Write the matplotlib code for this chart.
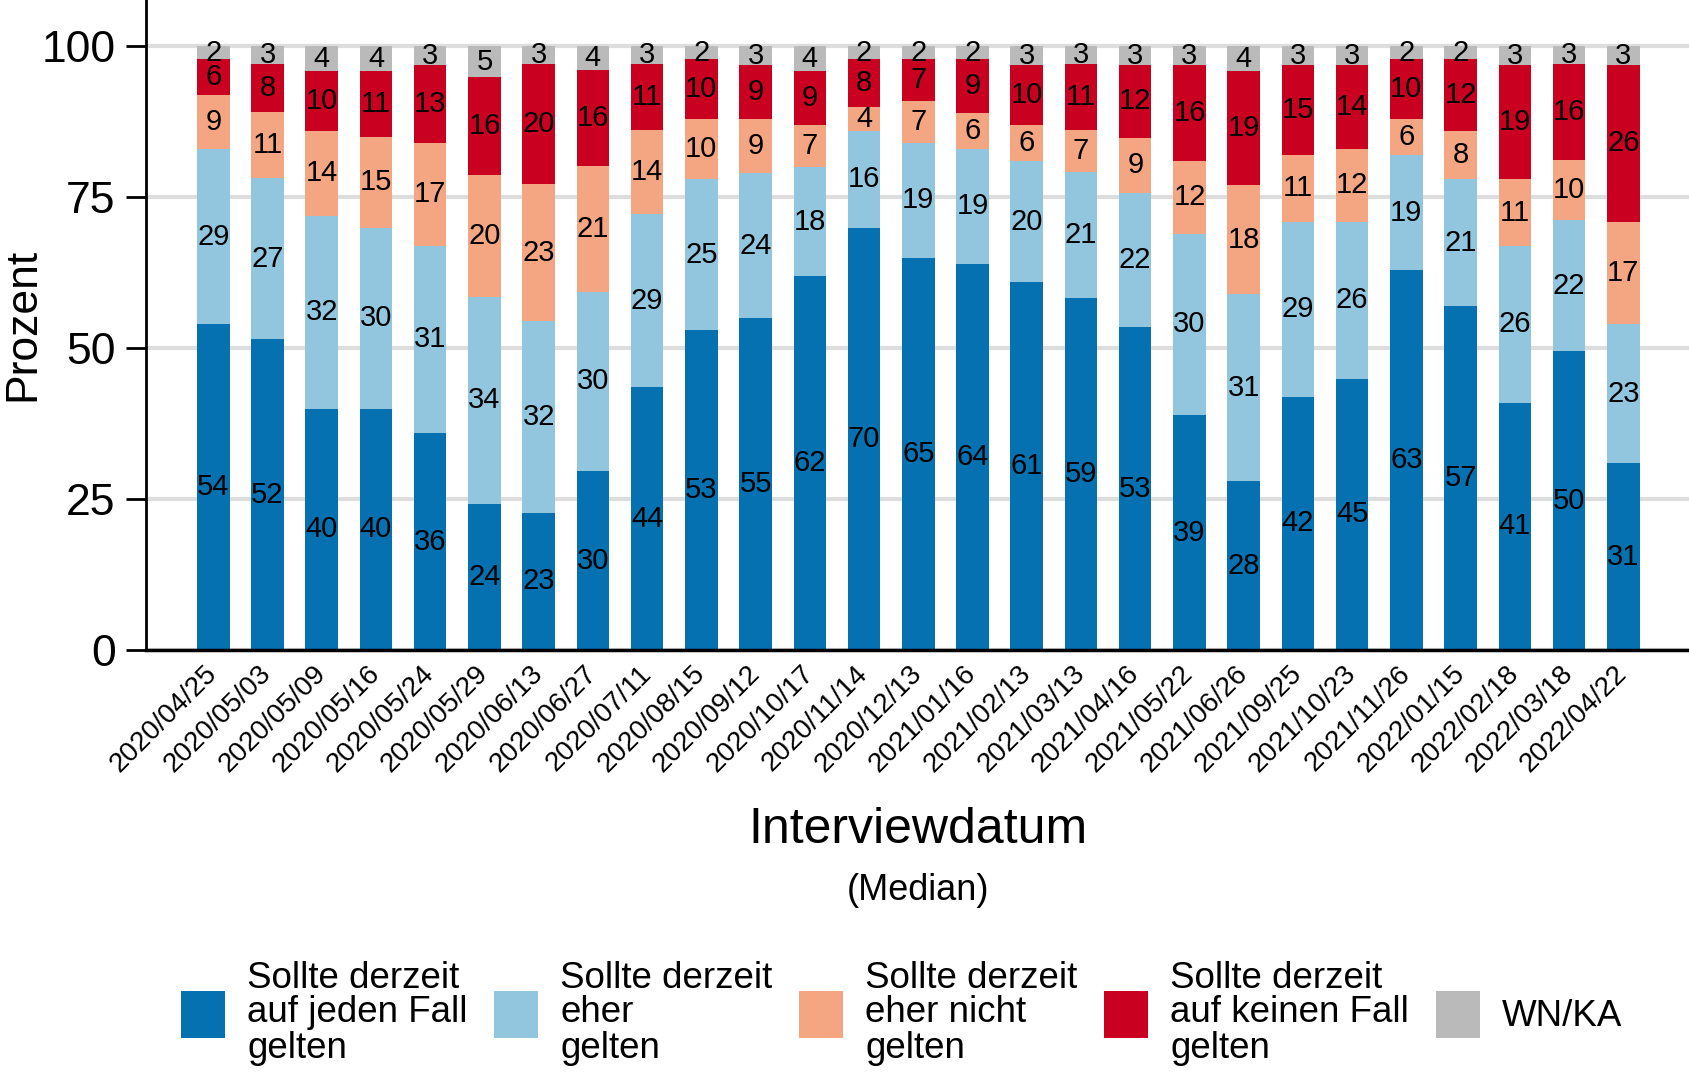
import numpy as np
import matplotlib
matplotlib.use("Agg")
import matplotlib.pyplot as plt
from matplotlib.patches import Patch

plt.rcParams['font.family'] = ['Liberation Sans', 'DejaVu Sans']

dates = ["2020/04/25", "2020/05/03", "2020/05/09", "2020/05/16", "2020/05/24",
         "2020/05/29", "2020/06/13", "2020/06/27", "2020/07/11", "2020/08/15",
         "2020/09/12", "2020/10/17", "2020/11/14", "2020/12/13", "2021/01/16",
         "2021/02/13", "2021/03/13", "2021/04/16", "2021/05/22", "2021/06/26",
         "2021/09/25", "2021/10/23", "2021/11/26", "2022/01/15", "2022/02/18",
         "2022/03/18", "2022/04/22"]

jeden_fall = [54, 52, 40, 40, 36, 24, 23, 30, 44, 53, 55, 62, 70, 65, 64, 61, 59, 53, 39, 28, 42, 45, 63, 57, 41, 50, 31]
eher_gelten = [29, 27, 32, 30, 31, 34, 32, 30, 29, 25, 24, 18, 16, 19, 19, 20, 21, 22, 30, 31, 29, 26, 19, 21, 26, 22, 23]
eher_nicht = [9, 11, 14, 15, 17, 20, 23, 21, 14, 10, 9, 7, 4, 7, 6, 6, 7, 9, 12, 18, 11, 12, 6, 8, 11, 10, 17]
keinen_fall = [6, 8, 10, 11, 13, 16, 20, 16, 11, 10, 9, 9, 8, 7, 9, 10, 11, 12, 16, 19, 15, 14, 10, 12, 19, 16, 26]
wn_ka = [2, 3, 4, 4, 3, 5, 3, 4, 3, 2, 3, 4, 2, 2, 2, 3, 3, 3, 3, 4, 3, 3, 2, 2, 3, 3, 3]

labels = ["Sollte derzeit\nauf jeden Fall\ngelten", "Sollte derzeit\neher\ngelten",
          "Sollte derzeit\neher nicht\ngelten", "Sollte derzeit\nauf keinen Fall\ngelten", "WN/KA"]
colors = ["#0571b0", "#92c5de", "#f4a582", "#ca0020", "#bababa"]

series = np.array([jeden_fall, eher_gelten, eher_nicht, keinen_fall, wn_ka], dtype=float)
# rounded labels don't add up to exactly 100, scale each bar to 100 %
shares = series / series.sum(axis=0) * 100

fig = plt.figure(figsize=(16.9, 10.73), dpi=100)
ax = fig.add_axes([0.0861, 0.394, 1 - 0.0861, 0.606])

x = np.arange(len(dates))
bottom = np.zeros(len(dates))
for raw, vals, col in zip(series, shares, colors):
    ax.bar(x, vals, bottom=bottom, width=0.6, color=col, zorder=2)
    for xi, b, v, r in zip(x, bottom, vals, raw):
        ax.text(xi, b + v / 2, f"{int(r)}", ha='center', va='center', fontsize=21, zorder=3)
    bottom += vals

ax.set_xlim(-1.25, len(dates) - 1 + 1.23)
ax.set_ylim(0, 107.7)
ax.set_yticks([0, 25, 50, 75, 100])
ax.yaxis.grid(True, color='#dddddd', linewidth=3, zorder=0)
ax.set_axisbelow(True)

ax.set_xticks(x)
ax.set_xticklabels(dates, rotation=45, ha='right', va='center', rotation_mode='anchor', fontsize=20)
ax.tick_params(axis='x', length=0, pad=14)
ax.tick_params(axis='y', labelsize=32, length=14.5, width=2, pad=7)

for s in ['top', 'right']:
    ax.spines[s].set_visible(False)
ax.spines['left'].set_linewidth(2)
ax.spines['bottom'].set_linewidth(2.5)

fig.text(0.0135, 0.698, "Prozent", rotation=90, ha='center', va='center', fontsize=32)
fig.text(0.543, 1 - 830 / 1073, "Interviewdatum", ha='center', va='center', fontsize=36)
fig.text(0.543, 1 - 890 / 1073, "(Median)", ha='center', va='center', fontsize=26)

handles = [Patch(facecolor=c) for c in colors]
leg = fig.legend(handles, labels, ncol=5, loc='center left', bbox_to_anchor=(0.107, 1 - 1013 / 1073),
                 frameon=False, fontsize=26.5, handlelength=1.2, handleheight=1.6,
                 handletextpad=0.6, columnspacing=0.72, borderpad=0, borderaxespad=0)
for t in leg.get_texts():
    t.set_linespacing(1.0)

plt.savefig("out.png", dpi=100)
